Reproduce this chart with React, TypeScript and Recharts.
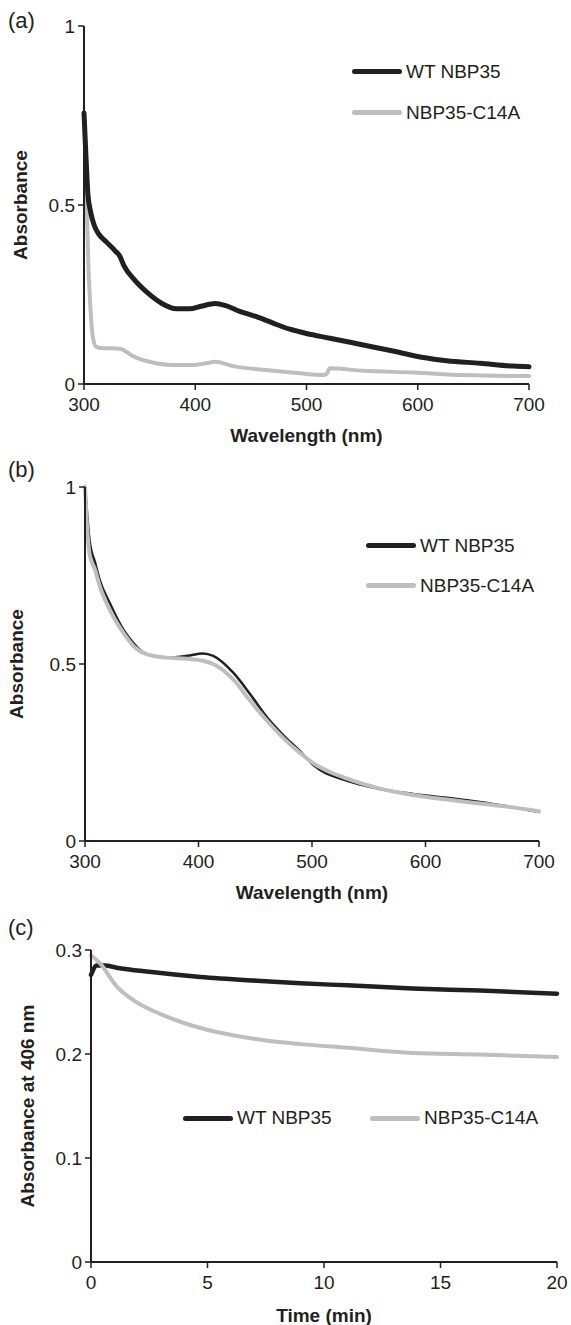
import React from 'react';
import { LineChart, Line, XAxis, YAxis, Legend } from 'recharts';

const INK = '#231f20';
const GREY = '#bcbec0';
const FONT = '"Liberation Sans", Arial, Helvetica, sans-serif';

// (a) spectra, wavelength (nm) / absorbance
const aWtNm = [300, 302, 303.5, 306, 309, 313, 320, 328, 332, 336, 345, 357, 370, 383, 395, 405, 418, 428, 440, 455, 470, 485, 500, 521, 551, 581, 605, 626, 656, 686, 700];
const aWtAbs = [0.757, 0.62, 0.53, 0.48, 0.445, 0.42, 0.397, 0.372, 0.358, 0.33, 0.292, 0.255, 0.225, 0.21, 0.21, 0.217, 0.225, 0.218, 0.203, 0.188, 0.17, 0.153, 0.141, 0.128, 0.109, 0.09, 0.074, 0.065, 0.058, 0.05, 0.048];
const aMutNm = [300, 302, 304, 306, 308, 311, 318, 326, 333, 344, 359, 380, 398, 410, 418, 434, 464, 494, 515, 518, 521, 551, 596, 641, 700];
const aMutAbs = [0.757, 0.55, 0.33, 0.2, 0.13, 0.104, 0.1, 0.1, 0.098, 0.078, 0.062, 0.053, 0.053, 0.058, 0.062, 0.05, 0.039, 0.03, 0.025, 0.028, 0.044, 0.037, 0.032, 0.025, 0.022];

// (b) spectra
const bWtNm = [300, 302, 304, 309, 313, 322, 334, 343, 354, 372, 390, 404, 413, 431, 445, 460, 475, 489, 501, 531, 560, 589, 619, 648, 677, 700];
const bWtAbs = [1.0, 0.92, 0.85, 0.785, 0.737, 0.671, 0.596, 0.558, 0.528, 0.518, 0.523, 0.53, 0.523, 0.474, 0.417, 0.351, 0.298, 0.255, 0.215, 0.17, 0.147, 0.133, 0.122, 0.11, 0.095, 0.082];
const bMutNm = [300, 302, 304, 309, 313, 322, 334, 343, 354, 372, 390, 404, 413, 431, 445, 460, 475, 489, 501, 531, 560, 589, 619, 648, 677, 700];
const bMutAbs = [1.0, 0.88, 0.81, 0.765, 0.72, 0.652, 0.587, 0.55, 0.528, 0.518, 0.515, 0.509, 0.5, 0.455, 0.398, 0.341, 0.29, 0.25, 0.22, 0.176, 0.148, 0.13, 0.117, 0.106, 0.095, 0.084];

// (c) absorbance at 406 nm over time (min)
const cWtMin = [0, 0.25, 0.6, 1.1, 2.5, 4.7, 7.5, 9, 11, 13.8, 16.7, 20];
const cWtAbs = [0.276, 0.285, 0.285, 0.283, 0.279, 0.274, 0.27, 0.268, 0.266, 0.263, 0.261, 0.258];
const cMutMin = [0, 0.4, 1.1, 1.8, 3.25, 4.7, 6.1, 7.5, 9, 11, 13.8, 16.7, 20];
const cMutAbs = [0.295, 0.287, 0.265, 0.252, 0.236, 0.225, 0.218, 0.213, 0.2095, 0.206, 0.201, 0.1995, 0.197];

const wavelengthTicks = [300, 400, 500, 600, 700];
const spectrumTicks = [0, 0.5, 1];
const timeTicks = [0, 5, 10, 15, 20];
const kineticTicks = [0, 0.1, 0.2, 0.3];
const seriesNames = ['WT NBP35', 'NBP35-C14A'];

const zip = (xs: number[], ys: number[]) => xs.map((x, i) => ({ x, y: ys[i] }));

const axisLine = { stroke: INK, strokeWidth: 2 };
const tickLine = { stroke: INK, strokeWidth: 1.5 };
const tickText = { fill: INK, fontSize: 19 };
const titleStyle = { fill: INK, fontSize: 19, fontWeight: 'bold' as const };

function LegendKey({ row, horizontal }: { row: number; horizontal?: boolean }) {
  return (
    <div style={{ display: 'flex', flexDirection: horizontal ? 'row' : 'column', fontFamily: FONT }}>
      {seriesNames.map((name, i) => (
        <div
          key={name}
          style={{ display: 'flex', alignItems: 'center', height: row, width: horizontal && i === 0 ? 187 : undefined }}
        >
          <span style={{ width: 50, height: 5, borderRadius: 3, background: i === 0 ? INK : GREY }} />
          <span style={{ marginLeft: 4, fontSize: 19, lineHeight: `${row}px`, color: INK, whiteSpace: 'nowrap' }}>{name}</span>
        </div>
      ))}
    </div>
  );
}

function PanelTag({ text, top }: { text: string; top: number }) {
  return (
    <div style={{ position: 'absolute', left: 8, top, fontSize: 22, lineHeight: '22px', color: INK }}>{text}</div>
  );
}

export default function App() {
  return (
    <div style={{ position: 'absolute', left: 0, top: 0, width: 571, height: 1325, background: '#fff', fontFamily: FONT }}>
      <PanelTag text="(a)" top={10} />
      <PanelTag text="(b)" top={459} />
      <PanelTag text="(c)" top={917} />

      <div style={{ position: 'absolute', left: 0, top: 0 }}>
        <LineChart width={571} height={450} margin={{ top: 26, right: 42, bottom: 6, left: 20 }}>
          <XAxis
            type="number" dataKey="x" domain={[300, 700]} ticks={wavelengthTicks} interval={0}
            height={60} axisLine={axisLine} tickLine={tickLine} tickSize={6} tickMargin={8} tick={tickText}
            label={{ value: 'Wavelength (nm)', position: 'insideBottom', offset: 2, style: titleStyle }}
          />
          <YAxis
            type="number" domain={[0, 1]} ticks={spectrumTicks} interval={0}
            width={64} axisLine={axisLine} tickLine={tickLine} tickSize={6} tickMargin={3} tick={tickText}
            label={{ value: 'Absorbance', angle: -90, position: 'insideLeft', offset: 0, style: { ...titleStyle, textAnchor: 'middle' } }}
          />
          <Legend
            layout="vertical" align="center" verticalAlign="middle"
            wrapperStyle={{ left: 352, top: 50.5, width: 220 }}
            content={() => <LegendKey row={41} />}
          />
          <Line data={zip(aMutNm, aMutAbs)} dataKey="y" type="monotone" stroke={GREY} strokeWidth={4} strokeLinecap="round" dot={false} activeDot={false} isAnimationActive={false} />
          <Line data={zip(aWtNm, aWtAbs)} dataKey="y" type="monotone" stroke={INK} strokeWidth={5} strokeLinecap="round" dot={false} activeDot={false} isAnimationActive={false} />
        </LineChart>
      </div>

      <div style={{ position: 'absolute', left: 0, top: 450 }}>
        <LineChart width={571} height={455} margin={{ top: 37, right: 32, bottom: 4, left: 16 }}>
          <XAxis
            type="number" dataKey="x" domain={[300, 700]} ticks={wavelengthTicks} interval={0}
            height={60} axisLine={axisLine} tickLine={tickLine} tickSize={6} tickMargin={8} tick={tickText}
            label={{ value: 'Wavelength (nm)', position: 'insideBottom', offset: 2, style: titleStyle }}
          />
          <YAxis
            type="number" domain={[0, 1]} ticks={spectrumTicks} interval={0}
            width={69} axisLine={axisLine} tickLine={tickLine} tickSize={6} tickMargin={3} tick={tickText}
            label={{ value: 'Absorbance', angle: -90, position: 'insideLeft', offset: 0, style: { ...titleStyle, textAnchor: 'middle' } }}
          />
          <Legend
            layout="vertical" align="center" verticalAlign="middle"
            wrapperStyle={{ left: 366, top: 75.7, width: 200 }}
            content={() => <LegendKey row={40} />}
          />
          <Line data={zip(bWtNm, bWtAbs)} dataKey="y" type="monotone" stroke={INK} strokeWidth={2.5} strokeLinecap="round" dot={false} activeDot={false} isAnimationActive={false} />
          <Line data={zip(bMutNm, bMutAbs)} dataKey="y" type="monotone" stroke={GREY} strokeWidth={4} strokeLinecap="round" dot={false} activeDot={false} isAnimationActive={false} />
        </LineChart>
      </div>

      <div style={{ position: 'absolute', left: 0, top: 905 }}>
        <LineChart width={571} height={420} margin={{ top: 45, right: 14, bottom: 1, left: 27 }}>
          <XAxis
            type="number" dataKey="x" domain={[0, 20]} ticks={timeTicks} interval={0}
            height={62} axisLine={axisLine} tickLine={tickLine} tickSize={6} tickMargin={8} tick={tickText}
            label={{ value: 'Time (min)', position: 'insideBottom', offset: 2, style: titleStyle }}
          />
          <YAxis
            type="number" domain={[0, 0.3]} ticks={kineticTicks} interval={0}
            width={64} axisLine={axisLine} tickLine={tickLine} tickSize={6} tickMargin={3} tick={tickText}
            label={{ value: 'Absorbance at 406 nm', angle: -90, position: 'insideLeft', offset: 0, style: { ...titleStyle, textAnchor: 'middle' } }}
          />
          <Legend
            layout="horizontal" align="center" verticalAlign="middle"
            wrapperStyle={{ left: 183, top: 193, width: 380 }}
            content={() => <LegendKey row={40} horizontal />}
          />
          <Line data={zip(cWtMin, cWtAbs)} dataKey="y" type="monotone" stroke={INK} strokeWidth={4.5} strokeLinecap="round" dot={false} activeDot={false} isAnimationActive={false} />
          <Line data={zip(cMutMin, cMutAbs)} dataKey="y" type="monotone" stroke={GREY} strokeWidth={4} strokeLinecap="round" dot={false} activeDot={false} isAnimationActive={false} />
        </LineChart>
      </div>
    </div>
  );
}
